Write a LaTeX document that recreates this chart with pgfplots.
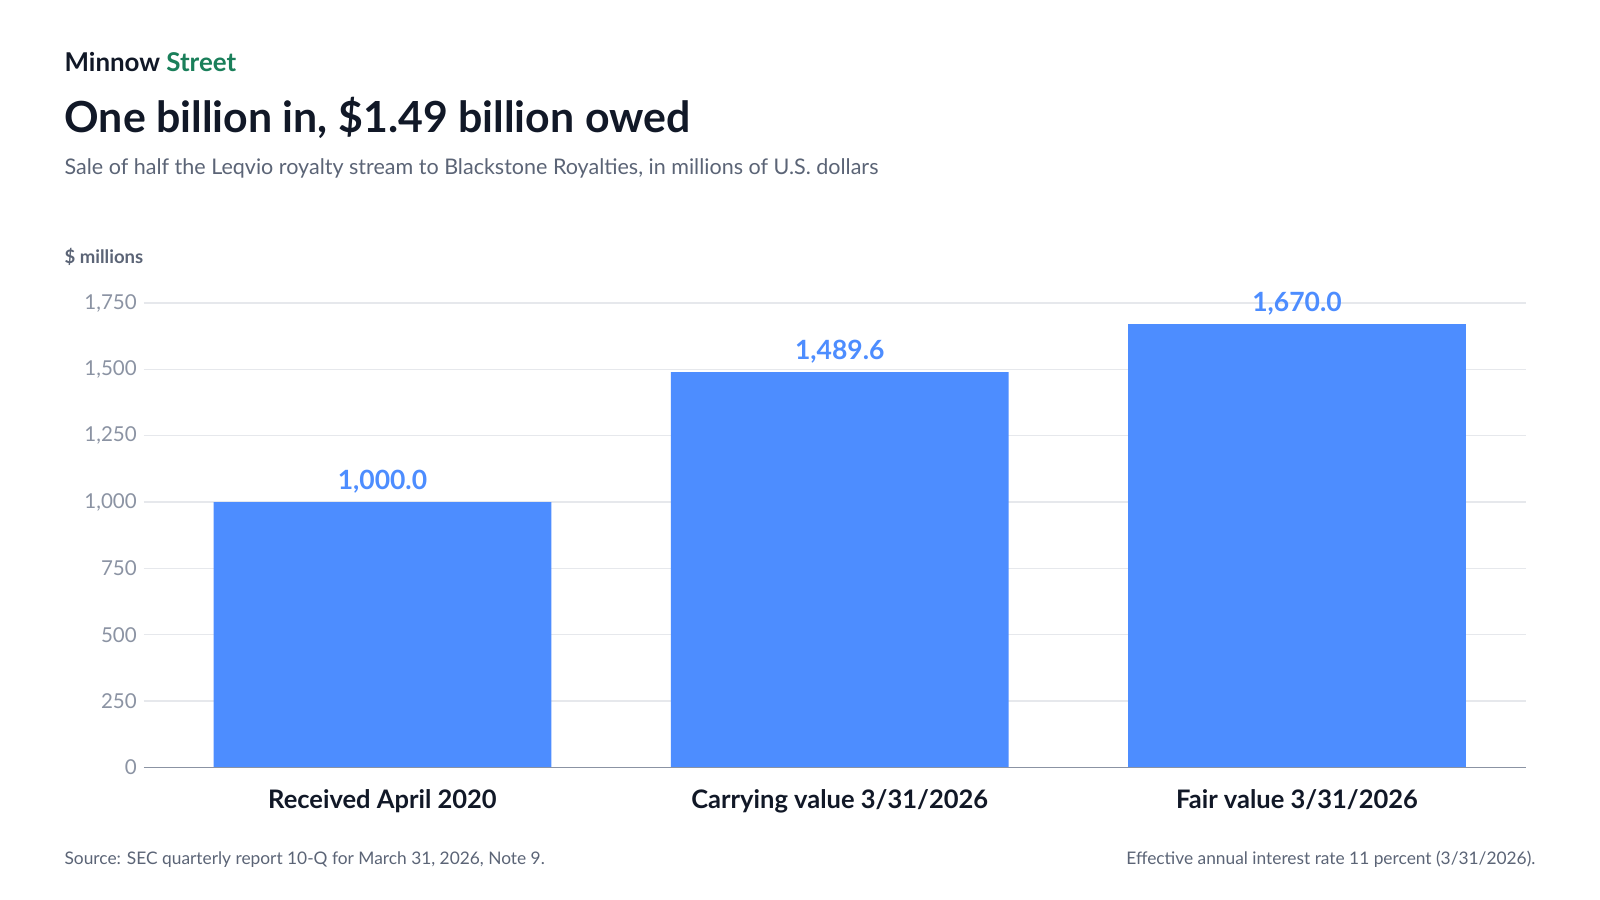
\documentclass[border=0pt]{standalone}
\usepackage{pgfplots}
\pgfplotsset{compat=1.18}
\usepackage{fontspec}
\setmainfont{Lato}
\definecolor{barblue}{HTML}{4D8DFF}
\definecolor{dark}{HTML}{111827}
\definecolor{green}{HTML}{1A7F5A}
\definecolor{sub}{HTML}{5B6476}
\definecolor{tickc}{HTML}{8B93A3}
\definecolor{gridc}{HTML}{E6E8EC}
\begin{document}
\begin{tikzpicture}[x=1bp,y=1bp]
\useasboundingbox[fill=white] (0,0) rectangle (800,450);
\node[anchor=base west,inner sep=0,font=\fontsize{13}{15}\selectfont\bfseries,text=dark] at (32.1,414.3) {Minnow \textcolor{green}{Street}};
\node[anchor=base west,inner sep=0,font=\fontsize{21.5}{24}\selectfont\bfseries,text=dark] at (32.1,383.7) {One billion in, \$1.49 billion owed};
\node[anchor=base west,inner sep=0,font=\fontsize{10.8}{12}\selectfont,text=sub] at (32.1,362.8) {Sale of half the Leqvio royalty stream to Blackstone Royalties, in millions of U.S. dollars};
\node[anchor=base west,inner sep=0,font=\fontsize{9.3}{11}\selectfont\bfseries,text=sub] at (32.1,318.4) {\$ millions};
\node[anchor=base west,inner sep=0,font=\fontsize{8.7}{10}\selectfont,text=sub] at (32.1,17.5) {Source: SEC quarterly report 10-Q for March 31, 2026, Note 9.};
\node[anchor=base east,inner sep=0,font=\fontsize{8.7}{10}\selectfont,text=sub] at (767.9,17.5) {Effective annual interest rate 11 percent (3/31/2026).};
\begin{axis}[
  at={(71.9bp,66.3bp)}, anchor=south west, scale only axis,
  width=690.9bp, height=232.2bp,
  xmin=-0.522, xmax=2.5, ymin=0, ymax=1750,
  clip=false,
  axis line style={draw=none},
  ybar, bar width=0.739,
  xtick=data, xticklabels={Received April 2020, Carrying value 3/31/2026, Fair value 3/31/2026},
  xticklabel style={font=\fontsize{12.8}{14}\selectfont\bfseries,text=dark,yshift=-7.5bp},
  ytick={0,250,...,1750},
  yticklabel style={font=\fontsize{10.3}{12}\selectfont,text=tickc},
  /pgf/number format/assume math mode=true,
  /pgf/number format/1000 sep={,},
  xmajorgrids=false, ymajorgrids, grid style={draw=gridc, line width=0.6pt},
  major tick length=0pt,
  nodes near coords, point meta=explicit symbolic,
  nodes near coords style={font=\fontsize{13.3}{15}\selectfont\bfseries,text=barblue,yshift=1bp},
]
\addplot[fill=barblue,draw=none] coordinates {(0,1000)[1,000.0] (1,1489.6)[1,489.6] (2,1670)[1,670.0]};
\draw[tickc,line width=0.7pt] (axis cs:-0.522,0) -- (axis cs:2.5,0);
\end{axis}
\end{tikzpicture}
\end{document}
